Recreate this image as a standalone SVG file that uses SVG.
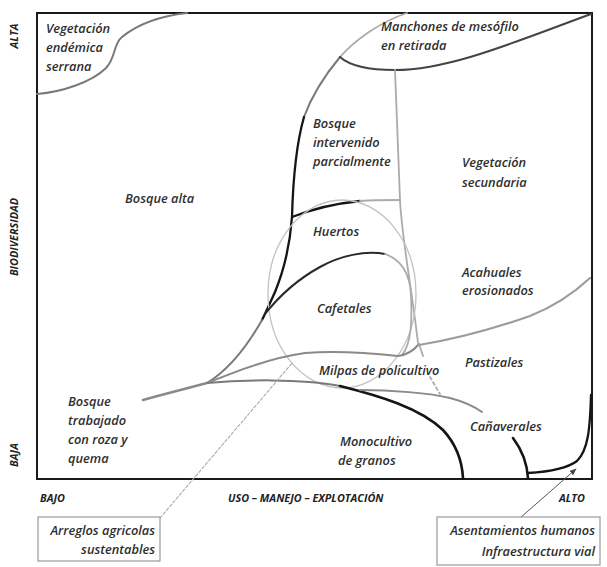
<svg xmlns="http://www.w3.org/2000/svg" width="607" height="567" viewBox="0 0 607 567">
<defs>
<style>
.lbl{font-family:"Open Sans","Noto Sans","Liberation Sans",sans-serif;font-style:italic;font-weight:600;font-size:12.8px;fill:#2e2e2e;}
.ax{font-family:"Open Sans","Noto Sans","Liberation Sans",sans-serif;font-style:italic;font-weight:bold;font-size:10.8px;fill:#222;}
.c{fill:none;stroke-linecap:round;stroke-linejoin:round;}
.blk{stroke:#151515;stroke-width:2.3;}
.dk{stroke:#444;stroke-width:2;}
.md{stroke:#7a7a7a;stroke-width:2;}
.lt{stroke:#ababab;stroke-width:1.8;}
.xl{stroke:#c2c2c2;stroke-width:1.3;}
.box{fill:#fff;stroke:#9a9a9a;stroke-width:1.2;}
</style>
<marker id="arr" viewBox="0 0 10 10" refX="9" refY="5" markerWidth="7" markerHeight="7" orient="auto">
<path d="M0,1 L10,5 L0,9 z" fill="#444"/>
</marker>
</defs>
<rect x="0" y="0" width="607" height="567" fill="#fff"/>
<rect id="frame" x="37" y="13" width="555" height="466" fill="#fff" stroke="#1a1a1a" stroke-width="2"/>

<g id="connectors">
<path class="c md" d="M37,94 C62,92 92,82 106,68 C116,58 113,44 122,37 C138,24 160,16 187,13"/>
<path class="c lt" d="M407,13 C380,22 355,40 340,57"/>
<path class="c md" d="M340,57 C325,75 312,95 304,117"/>
<path class="c blk" d="M304,117 C296,145 293,180 292,217 C290,245 284,270 275,292 C270,303 266,312 262,320"/>
<path class="c md" d="M262,320 C245,350 225,372 207,383"/>
<path class="c md" style="stroke-width:2.6;stroke:#8a8a8a" d="M143,400 C165,394 188,388 207,383"/>
<path class="c dk" d="M340,57 C350,66 370,70 395,70 C450,70 520,40 591,14"/>
<path class="c lt" d="M395,70 C397,120 399,170 400,200 C402,240 412,290 418,343"/>
<path class="c blk" d="M292,217 C310,210 330,204 360,201"/>
<path class="c lt" d="M360,201 C375,200 390,200 400,200"/>
<ellipse class="c xl" cx="342" cy="294" rx="74" ry="94"/>
<path class="c dk" style="stroke:#2a2a2a" d="M265,314 C280,295 300,278 320,267 C340,256 365,250 385,254"/>
<path class="c lt" d="M385,254 C402,260 410,275 411,295 C412,318 412,343 402,355"/>
<path class="c md" style="stroke:#8a8a8a" d="M207,383 C240,370 270,358 305,353 C340,350 380,354 398,356 C408,355 414,350 419,344"/>
<path class="c md" d="M207,383 C240,380 300,378 340,386"/>
<path class="c blk" style="stroke-width:2.6" d="M340,386 C380,396 420,408 443,430 C455,443 462,460 463,478"/>
<path class="c md" style="stroke:#8a8a8a" d="M360,390 C390,390 430,393 450,398 C465,402 475,407 482,412"/>
<path class="c lt" d="M419,344 L423,356"/>
<path class="c lt" style="stroke-dasharray:3,3" d="M430,377 L440,394"/>
<path class="c lt" style="stroke:#9c9c9c;stroke-width:2.2" d="M419,345 C450,340 490,330 530,316 C555,306 575,292 590,278"/>
<path class="c blk" style="stroke-width:2.6" d="M513,438 C522,450 527,462 528,478"/>
<path class="c blk" d="M528,473 C545,472 565,470 577,461 C588,450 590,430 591,395"/>
<path class="c" stroke="#555" stroke-width="1" d="M520,518 L576,469" marker-end="url(#arr)"/>
<path class="c" stroke="#aaa" stroke-width="1.1" stroke-dasharray="3,2" d="M160,518 L293,362"/>
</g>

<g id="n-serrana"><text class="lbl" x="46" y="33">Vegetación</text><text class="lbl" x="46" y="52">endémica</text><text class="lbl" x="46" y="71">serrana</text></g>
<g id="n-manchones"><text class="lbl" x="381" y="31">Manchones de mesófilo</text><text class="lbl" x="381" y="50">en retirada</text></g>
<g id="n-bosque-alta"><text class="lbl" x="125" y="203">Bosque alta</text></g>
<g id="n-intervenido"><text class="lbl" x="313" y="128">Bosque</text><text class="lbl" x="313" y="147">intervenido</text><text class="lbl" x="313" y="166">parcialmente</text></g>
<g id="n-secundaria"><text class="lbl" x="462" y="167">Vegetación</text><text class="lbl" x="462" y="187">secundaria</text></g>
<g id="n-huertos"><text class="lbl" x="313" y="236">Huertos</text></g>
<g id="n-cafetales"><text class="lbl" x="317" y="313">Cafetales</text></g>
<g id="n-acahuales"><text class="lbl" x="462" y="277">Acahuales</text><text class="lbl" x="462" y="295">erosionados</text></g>
<g id="n-milpas"><text class="lbl" x="319" y="375">Milpas de policultivo</text></g>
<g id="n-pastizales"><text class="lbl" x="465" y="367">Pastizales</text></g>
<g id="n-canaverales"><text class="lbl" x="470" y="431">Cañaverales</text></g>
<g id="n-monocultivo"><text class="lbl" x="340" y="446">Monocultivo</text><text class="lbl" x="338" y="465">de  granos</text></g>
<g id="n-roza"><text class="lbl" x="68" y="406">Bosque</text><text class="lbl" x="68" y="425">trabajado</text><text class="lbl" x="68" y="444">con roza y</text><text class="lbl" x="68" y="463">quema</text></g>

<g id="axes">
<text class="ax" transform="translate(18,36) rotate(-90)" text-anchor="middle">ALTA</text>
<text class="ax" transform="translate(18,237) rotate(-90)" text-anchor="middle">BIODIVERSIDAD</text>
<text class="ax" transform="translate(18,455) rotate(-90)" text-anchor="middle">BAJA</text>
<text class="ax" x="40" y="502">BAJO</text>
<text class="ax" x="228" y="502">USO – MANEJO – EXPLOTACIÓN</text>
<text class="ax" x="559" y="502">ALTO</text>
</g>

<g id="n-arreglos"><rect class="box" x="38" y="517" width="122" height="44"/><text class="lbl" x="155" y="535" text-anchor="end">Arreglos agricolas</text><text class="lbl" x="155" y="554" text-anchor="end">sustentables</text></g>
<g id="n-asentamientos"><rect class="box" x="437" y="517" width="163" height="48"/><text class="lbl" x="595" y="535" text-anchor="end">Asentamientos humanos</text><text class="lbl" x="595" y="556" text-anchor="end">Infraestructura vial</text></g>
</svg>
